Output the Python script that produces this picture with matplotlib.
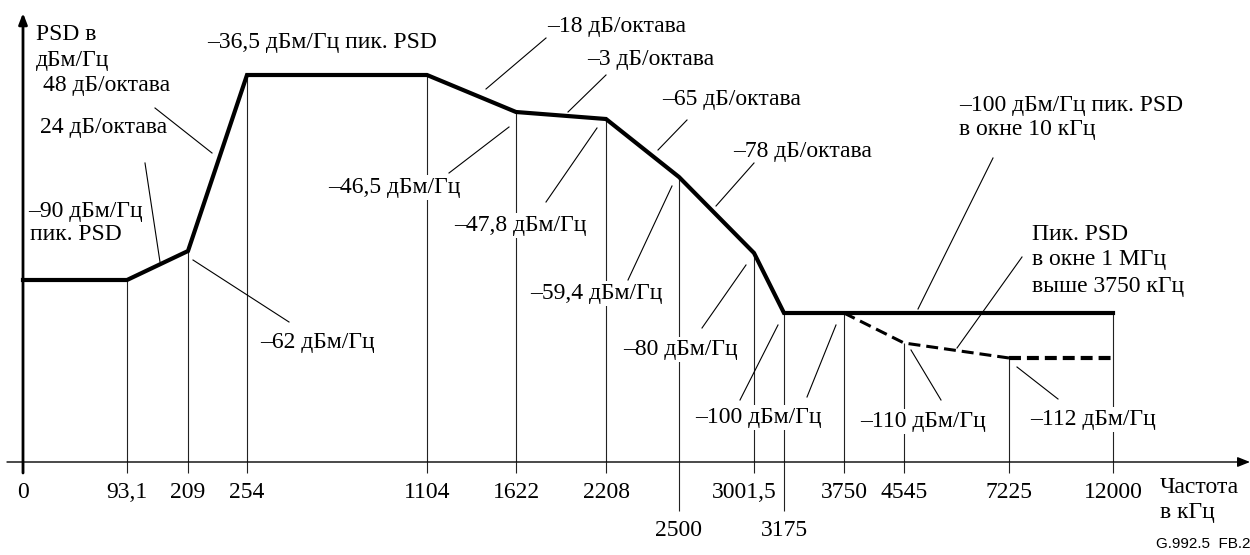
import numpy as np
import matplotlib
matplotlib.use("Agg")
import matplotlib.pyplot as plt
import matplotlib.transforms as mtransforms

plt.rcParams['font.family'] = ['Liberation Serif', 'DejaVu Serif']
plt.rcParams['lines.scale_dashes'] = False

# PSD mask (kHz, dBm/Hz)
freq_main = [0, 93.1, 209, 254, 1104, 1622, 2208, 2500, 3001.5, 3175, 12000]
psd_main = [-90, -90, -62, -36.5, -36.5, -46.5, -47.8, -59.4, -80, -100, -100]

# peak PSD in 1 MHz window above 3750 kHz
freq_1mhz = [3750, 4545, 7225, 12000]
psd_1mhz = [-100, -110, -112, -112]

tick_freqs = [0, 93.1, 209, 254, 1104, 1622, 2208, 3001.5, 3750, 4545, 7225, 12000]
tick_labels = ['0', '93,1', '209', '254', '1104', '1622', '2208', '3001,5',
               '3750', '4545', '7225', '12000']
low_tick_freqs = [2500, 3175]
low_tick_labels = ['2500', '3175']

# schematic (not to scale) layout of the axes, in pixels
x_knots = [0, 93.1, 209, 254, 1104, 1622, 2208, 2500, 3001.5, 3175, 3750, 4545, 7225, 12000]
x_layout = [0, 104, 165, 224, 404, 493, 583, 656, 731, 761, 821, 881, 986, 1090]
y_knots = [-112, -110, -100, -90, -80, -62, -59.4, -47.8, -46.5, -36.5]
y_layout = [104, 119, 149, 182, 209, 211, 285, 343, 350, 387]

FS = 17


def interp_ext(v, xp, fp):
    v = np.asarray(v, dtype=float)
    s0 = (fp[1] - fp[0]) / (xp[1] - xp[0])
    s1 = (fp[-1] - fp[-2]) / (xp[-1] - xp[-2])
    return np.where(v < xp[0], fp[0] + (v - xp[0]) * s0,
                    np.where(v > xp[-1], fp[-1] + (v - xp[-1]) * s1,
                             np.interp(v, xp, fp)))


W, H = 1250, 555
fig = plt.figure(figsize=(W / 100, H / 100), dpi=100)
ax = fig.add_axes([23 / W, 93 / H, 1090 / W, 387 / H])
ax.set_xscale('function', functions=(lambda f: interp_ext(f, x_knots, x_layout),
                                     lambda p: interp_ext(p, x_layout, x_knots)))
ax.set_yscale('function', functions=(lambda d: interp_ext(d, y_knots, y_layout),
                                     lambda p: interp_ext(p, y_layout, y_knots)))
y_base = float(interp_ext(0, y_layout, y_knots))
ax.set_xlim(0, 12000)
ax.set_ylim(y_base, -36.5)
ax.patch.set_visible(False)
for s in ax.spines.values():
    s.set_visible(False)
ax.set_yticks([])

# pixel coords of the reference picture (origin top-left)
PX = mtransforms.Affine2D().scale(1 / W, -1 / H).translate(0, 1) + fig.transFigure

# vertical drop lines from the mask down to the frequency axis
drop_f = [f for f in x_knots if f > 0]
drop_top = []
for f in drop_f:
    if freq_1mhz[0] < f < freq_1mhz[-1]:
        drop_top.append(float(np.interp(f, freq_1mhz, psd_1mhz)))
    else:
        drop_top.append(float(np.interp(f, freq_main, psd_main)))
ax.vlines(drop_f, y_base, drop_top, color='#222222', lw=0.8, clip_on=False, zorder=1)

ax.plot(freq_main, psd_main, color='black', lw=3.0, solid_joinstyle='miter',
        clip_on=False, zorder=3)
ax.plot(freq_1mhz[:3], psd_1mhz[:3], color='black', lw=2.2, dashes=(8.6, 4.3),
        clip_on=False, zorder=3)
ax.plot(freq_1mhz[2:], psd_1mhz[2:], color='black', lw=3.0, dashes=(8.6, 4.3),
        clip_on=False, zorder=3)

ax.set_xticks(tick_freqs, tick_labels, fontsize=FS)
ax.set_xticks(low_tick_freqs, low_tick_labels, minor=True, fontsize=FS)
ax.tick_params(axis='x', which='major', length=7.9, width=0.8, pad=6.5,
               direction='out', color='#222222')
ax.tick_params(axis='x', which='minor', length=35.3, width=0.8, pad=6.5,
               direction='out', color='#222222')
# keep "3001,5" clear of the 3175 line
for lab in ax.get_xticklabels():
    if lab.get_text() == '3001,5':
        lab.set_transform(lab.get_transform()
                          + mtransforms.ScaledTranslation(-0.1, 0, fig.dpi_scale_trans))

# axes with arrows
ax.annotate('', xy=(1250, 462), xytext=(7, 462), xycoords=PX, textcoords=PX,
            arrowprops=dict(arrowstyle='-|>,head_length=0.75,head_width=0.3',
                            lw=1.0, color='black', shrinkA=0, shrinkB=0))
ax.annotate('', xy=(23, 13), xytext=(23, 473), xycoords=PX, textcoords=PX,
            arrowprops=dict(arrowstyle='-|>,head_length=0.65,head_width=0.25',
                            lw=2.0, color='black', shrinkA=0, shrinkB=0))

# text labels: (left x, baseline y, text)
labels = [
    (36, 40, 'PSD в'), (36, 66, 'дБм/Гц'),
    (43, 91, '48 дБ/октава'), (40, 133, '24 дБ/октава'),
    (207, 48, '–36,5 дБм/Гц пик. PSD'),
    (547, 32, '–18 дБ/октава'), (587, 65, '–3 дБ/октава'),
    (662, 105, '–65 дБ/октава'), (733, 157, '–78 дБ/октава'),
    (28, 217, '–90 дБм/Гц'), (30, 240, 'пик. PSD'),
    (260, 348, '–62 дБм/Гц'),
    (328, 193, '–46,5 дБм/Гц'), (454, 231, '–47,8 дБм/Гц'),
    (530, 299, '–59,4 дБм/Гц'), (623, 355, '–80 дБм/Гц'),
    (695, 423, '–100 дБм/Гц'),
    (959, 111, '–100 дБм/Гц пик. PSD'), (959, 135, 'в окне 10 кГц'),
    (1032, 240, 'Пик. PSD'), (1032, 265, 'в окне 1 МГц'), (1032, 292, 'выше 3750 кГц'),
    (860, 427, '–110 дБм/Гц'), (1030, 425, '–112 дБм/Гц'),
    (1160, 493, 'Частота'), (1160, 518, 'в кГц'),
]
for x, y, s in labels:
    fig.text(x, y, s, transform=PX, ha='left', va='baseline', fontsize=FS,
             bbox=dict(fc='white', ec='none', pad=1.2), zorder=5)

# leader lines
leaders = [
    ((155, 108), (212, 153)), ((145, 163), (160, 262)), ((193, 260), (289, 322)),
    ((546, 38), (486, 89)), ((606, 75), (568, 112)), ((509, 127), (449, 173)),
    ((597, 128), (546, 202)), ((687, 120), (658, 150)), ((754, 163), (716, 206)),
    ((672, 186), (628, 280)), ((746, 265), (702, 328)), ((778, 325), (740, 400)),
    ((836, 325), (807, 397)), ((993, 158), (918, 309)), ((1022, 257), (957, 348)),
    ((911, 350), (941, 400)), ((1017, 367), (1058, 399)),
]
for (x0, y0), (x1, y1) in leaders:
    fig.add_artist(plt.Line2D([x0, x1], [y0, y1], transform=PX, color='black',
                              lw=0.8, zorder=6))

fig.text(1250, 548, 'G.992.5  FB.2', transform=PX, ha='right', va='baseline',
         fontsize=11, family=['Liberation Sans', 'DejaVu Sans'])

fig.savefig('out.png', dpi=100)
